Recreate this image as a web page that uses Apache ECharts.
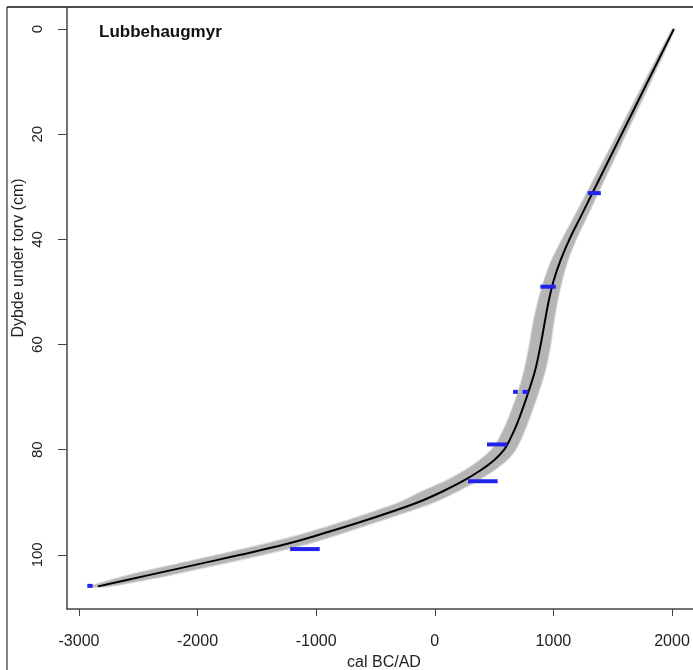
<!DOCTYPE html>
<html>
<head>
<meta charset="utf-8">
<title>Lubbehaugmyr</title>
<script src="https://cdn.jsdelivr.net/npm/echarts@6/dist/echarts.min.js"></script>
<style>
  html, body { margin: 0; padding: 0; background: #fff; }
  #main { width: 693px; height: 670px; }
</style>
</head>
<body>
<div id="main"></div>
<script>
  // alder-dybde modell (svart linje)
  var modelDepth = [0, 10, 20, 30, 36, 40, 44, 48, 52, 56, 60, 65, 70, 75, 78, 80, 82, 84, 86, 88, 90, 92, 94, 96, 98, 100, 102, 104, 106]
  var modelAge = [2015, 1795, 1575, 1355, 1223, 1135, 1060, 1000, 958, 925, 893, 845, 775, 695, 635, 585, 500, 380, 235, 60, -140, -390, -660, -950, -1260, -1640, -2040, -2440, -2840]
  // usikkerhet (grått bånd)
  var bandLo = [2005, 1770, 1540, 1310, 1170, 1075, 985, 920, 870, 830, 800, 755, 690, 605, 540, 480, 380, 250, 90, -110, -290, -540, -810, -1100, -1440, -1820, -2220, -2600, -2900]
  var bandHi = [2022, 1820, 1610, 1400, 1275, 1190, 1120, 1070, 1030, 1000, 975, 930, 860, 780, 725, 680, 605, 490, 350, 180, -10, -260, -530, -800, -1090, -1460, -1860, -2270, -2760]
  // kalibrerte dateringer (blå)
  var dateDepth = [31.2, 49, 69, 69, 79, 86, 98.9, 105.9]
  var dateFrom = [1290, 890, 660, 740, 440, 280, -1220, -2930]
  var dateTo = [1400, 1020, 700, 790, 610, 530, -970, -2885]
  // akser
  var xTicks = [-3000, -2000, -1000, 0, 1000, 2000]
  var yTicks = [0, 20, 40, 60, 80, 100]

  var font = 'Liberation Sans, Arial, Helvetica, sans-serif'

  var lineData = modelDepth.map(function (d, i) { return [modelAge[i], d] })
  var dateData = dateDepth.map(function (d, i) { return [dateFrom[i], dateTo[i], d] })

  var myChart = echarts.init(document.getElementById('main'))
  var option = {
    backgroundColor: '#fff',
    animation: false,
    title: {
      text: 'Lubbehaugmyr',
      left: 94,
      top: 19,
      textStyle: { fontFamily: font, fontSize: 17, fontWeight: 'bold', color: '#111' }
    },
    grid: { left: 67, top: 7, right: 0, bottom: 61, outerBoundsMode: 'none', containLabel: false },
    xAxis: {
      type: 'value',
      min: -3101,
      max: 2177,
      name: 'cal BC/AD',
      nameLocation: 'middle',
      nameGap: 46,
      nameTextStyle: { fontFamily: font, fontSize: 16, color: '#222', padding: [0, 0, 0, 8] },
      axisLine: { show: true, onZero: false, lineStyle: { color: '#444', width: 1.5 } },
      axisTick: { show: true, length: 7, customValues: xTicks, lineStyle: { color: '#444' } },
      axisLabel: {
        customValues: xTicks, margin: 25, fontFamily: font, fontSize: 16, color: '#222',
        formatter: function (v) { return String(v) }
      },
      splitLine: { show: false }
    },
    yAxis: {
      type: 'value',
      inverse: true,
      min: -4.2,
      max: 110.3,
      axisLine: { show: true, onZero: false, lineStyle: { color: '#444', width: 1.5 } },
      axisTick: { show: true, length: 9, customValues: yTicks, lineStyle: { color: '#444' } },
      axisLabel: {
        customValues: yTicks, rotate: 90, margin: 22, fontFamily: font, fontSize: 15, color: '#222',
        formatter: function (v) { return String(v) }
      },
      splitLine: { show: false }
    },
    graphic: [
      { type: 'line', shape: { x1: 7, y1: 7, x2: 693, y2: 7 }, style: { stroke: '#111', lineWidth: 1.5 } },
      { type: 'line', shape: { x1: 7, y1: 7, x2: 7, y2: 670 }, style: { stroke: '#333', lineWidth: 1.2 } },
      {
        type: 'text', x: 19, y: 258, rotation: Math.PI / 2,
        style: { text: 'Dybde under torv (cm)', fontFamily: font, fontSize: 16, fill: '#222', align: 'center', verticalAlign: 'middle' }
      }
    ],
    series: [
      {
        type: 'custom',
        name: 'band',
        data: [0],
        clip: true,
        renderItem: function (params, api) {
          var pts = []
          for (var i = 0; i < modelDepth.length; i++) pts.push(api.coord([bandLo[i], modelDepth[i]]))
          for (var j = modelDepth.length - 1; j >= 0; j--) pts.push(api.coord([bandHi[j], modelDepth[j]]))
          return {
            type: 'polygon',
            shape: { points: pts, smooth: 0.25 },
            style: { fill: '#b5b5b5', stroke: 'rgba(185,185,185,0.5)', lineWidth: 2 }
          }
        },
        z: 1
      },
      {
        type: 'line',
        data: lineData,
        smooth: 0.35,
        showSymbol: false,
        lineStyle: { color: '#000', width: 2 },
        z: 3
      },
      {
        type: 'custom',
        name: 'dates',
        data: dateData,
        renderItem: function (params, api) {
          var a = api.coord([api.value(0), api.value(2)])
          var b = api.coord([api.value(1), api.value(2)])
          return {
            type: 'rect',
            shape: { x: a[0], y: a[1] - 2, width: Math.max(b[0] - a[0], 4), height: 4 },
            style: { fill: '#2323ee' }
          }
        },
        z: 4
      }
    ]
  }
  myChart.setOption(option)
</script>
</body>
</html>
